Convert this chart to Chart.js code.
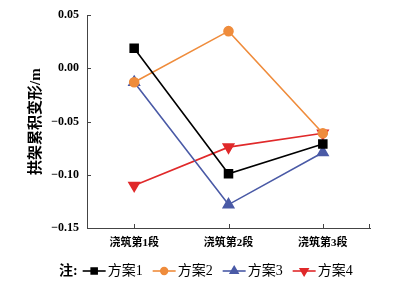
<!DOCTYPE html>
<html>
<head>
<meta charset="utf-8">
<script src="https://cdn.jsdelivr.net/npm/chart.js@4/dist/chart.umd.min.js"></script>
<style>
	html, body { margin: 0; padding: 0; background: #fff; }
	#wrap { width: 405px; height: 284px; }
</style>
</head>
<body>
<div id="wrap"><canvas id="chart" width="405" height="284"></canvas></div>
<script>
	// 데이터
	const stages = ['浇筑第1段', '浇筑第2段', '浇筑第3段'];
	const plan1 = [0.019, -0.099, -0.071];
	const plan2 = [-0.013, 0.035, -0.061];
	const plan3 = [-0.013, -0.128, -0.079];
	const plan4 = [-0.110, -0.074, -0.061];
	const yTicks = [0.05, 0.00, -0.05, -0.10, -0.15];

	const serif = "'Liberation Serif', 'Noto Sans CJK SC', serif";

	// 안쪽으로 향하는 눈금
	const innerTicks = {
		id: 'innerTicks',
		afterDraw(chart) {
			const ctx = chart.ctx;
			const x = chart.scales.x, y = chart.scales.y;
			ctx.save();
			ctx.strokeStyle = '#444';
			ctx.lineWidth = 1;
			ctx.beginPath();
			yTicks.forEach(v => {
				const py = Math.round(y.getPixelForValue(v)) + 0.5;
				ctx.moveTo(x.left, py);
				ctx.lineTo(x.left + 4, py);
			});
			stages.forEach((s, i) => {
				const px = Math.round(x.getPixelForValue(i)) + 0.5;
				ctx.moveTo(px, y.bottom);
				ctx.lineTo(px, y.bottom - 4);
			});
			ctx.moveTo(x.right - 0.5, y.bottom);
			ctx.lineTo(x.right - 0.5, y.bottom - 4);
			ctx.stroke();
			ctx.restore();
		}
	};

	// 범례 (注: 포함)
	const noteLegend = {
		id: 'noteLegend',
		afterDraw(chart) {
			const ctx = chart.ctx;
			const cy = 271;
			let cx = 59;
			ctx.save();
			ctx.textBaseline = 'middle';
			ctx.fillStyle = '#000';
			ctx.font = 'bold 14px ' + serif;
			ctx.fillText('注:', cx, cy);
			cx += ctx.measureText('注:').width + 5;
			ctx.font = '14px ' + serif;
			chart.data.datasets.forEach(ds => {
				ctx.strokeStyle = ds.borderColor;
				ctx.lineWidth = 1.6;
				ctx.beginPath();
				ctx.moveTo(cx, cy);
				ctx.lineTo(cx + 23, cy);
				ctx.stroke();
				Chart.helpers.drawPoint(ctx, {
					pointStyle: ds.pointStyle,
					radius: ds.pointRadius * 0.75,
					rotation: ds.pointRotation || 0,
					borderWidth: 1
				}, cx + 11.5, cy);
				ctx.fillStyle = ds.borderColor;
				ctx.fill();
				ctx.fillStyle = '#000';
				ctx.fillText(ds.label, cx + 25, cy);
				cx += 25 + ctx.measureText(ds.label).width + 10;
			});
			ctx.restore();
		}
	};

	function makeSet(label, data, color, style, radius, rotation) {
		return {
			label: label,
			data: data,
			borderColor: color,
			backgroundColor: color,
			pointBackgroundColor: color,
			pointBorderColor: color,
			pointStyle: style,
			pointRadius: radius,
			pointRotation: rotation || 0,
			borderWidth: 1.6,
			tension: 0
		};
	}

	new Chart(document.getElementById('chart'), {
		type: 'line',
		data: {
			labels: stages,
			datasets: [
				makeSet('方案1', plan1, '#000000', 'rect', 5.6),
				makeSet('方案2', plan2, '#ef8c3c', 'circle', 4.5),
				makeSet('方案3', plan3, '#4a5aa6', 'triangle', 6),
				makeSet('方案4', plan4, '#e0292a', 'triangle', 6, 180)
			]
		},
		options: {
			responsive: false,
			animation: false,
			layout: { padding: { left: 0, right: 35, top: 11, bottom: 33 } },
			plugins: {
				legend: { display: false },
				tooltip: { enabled: false }
			},
			scales: {
				x: {
					offset: true,
					grid: { display: true, drawOnChartArea: false, drawTicks: false },
					border: { display: true, color: '#444', width: 1 },
					ticks: {
						color: '#000',
						padding: 9,
						font: { family: serif, size: 11, weight: 'bold' }
					},
					afterFit(scale) { scale.height = 23; }
				},
				y: {
					min: -0.15,
					max: 0.05,
					grid: { display: true, drawOnChartArea: false, drawTicks: false },
					border: { display: true, color: '#444', width: 1 },
					afterBuildTicks(scale) {
						scale.ticks = yTicks.map(v => ({ value: v }));
					},
					ticks: {
						color: '#000',
						padding: 8,
						font: { family: serif, size: 12, weight: 'bold' },
						callback: v => (Math.abs(v) < 1e-9 ? '0.00' : v.toFixed(2).replace('-', '−'))
					},
					title: {
						display: true,
						text: '拱架累积变形/m',
						color: '#000',
						padding: { top: 27, bottom: 0 },
						font: { family: serif, size: 15, weight: 'bold' }
					},
					afterFit(scale) { scale.width = 87; }
				}
			}
		},
		plugins: [innerTicks, noteLegend]
	});
</script>
</body>
</html>
